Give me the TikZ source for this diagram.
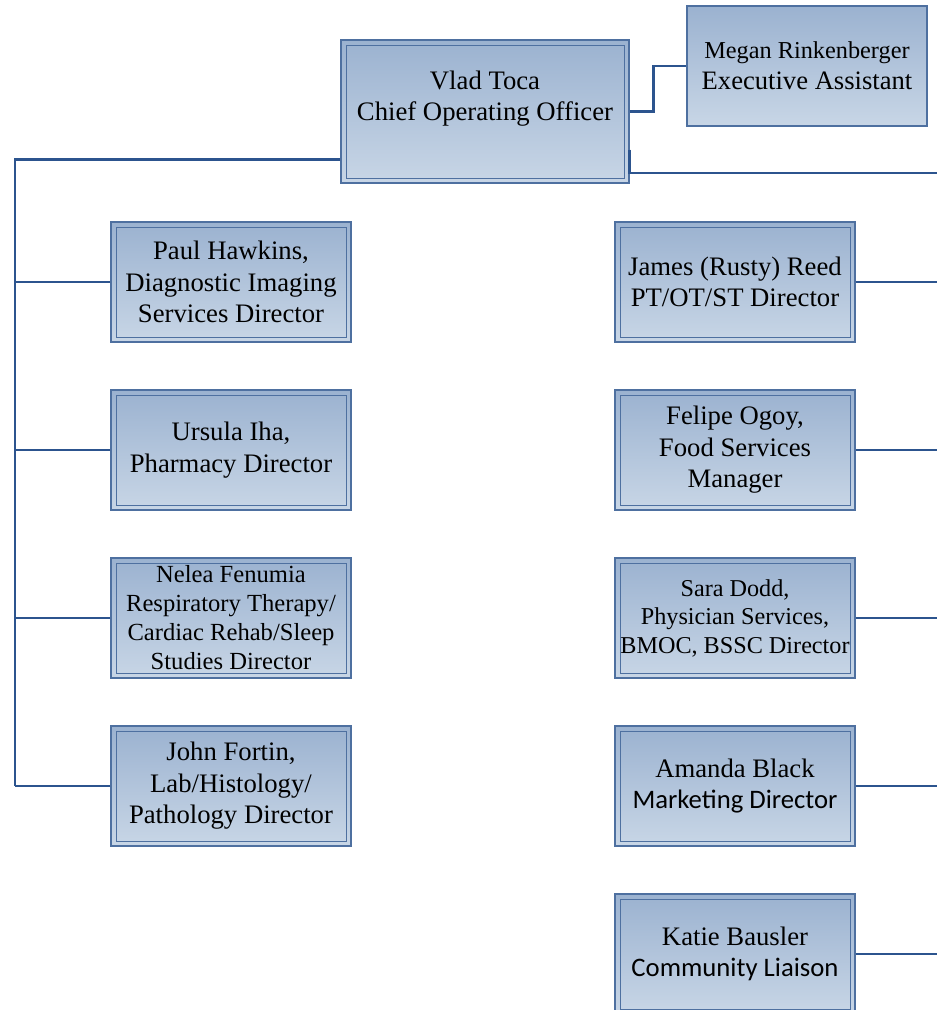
\documentclass[tikz,border=0pt]{standalone}
\usepackage{fontspec}
\setmainfont{Liberation Serif}
\newfontfamily\calibrifont{Carlito}
\usetikzlibrary{positioning}

\definecolor{boxtop}{RGB}{155,178,208}
\definecolor{boxbot}{RGB}{200,214,230}
\definecolor{boxline}{RGB}{78,112,160}
\definecolor{linkblue}{RGB}{44,84,142}

\tikzset{
  plainbox/.style={draw=boxline, line width=1.2pt, top color=boxtop, bottom color=boxbot,
    minimum width=240pt, minimum height=120pt, inner sep=0pt, align=center,
    font=\fontsize{26.7}{31.5}\selectfont},
  staffbox/.style={plainbox,
    path picture={\draw[boxline, line width=1pt]
      ([shift={(5pt,-5pt)}]path picture bounding box.north west) rectangle
      ([shift={(-5pt,5pt)}]path picture bounding box.south east);}},
  link/.style={draw=linkblue, line width=2.4pt}
}

\begin{document}
\begin{tikzpicture}[x=1pt, y=1pt]
  \useasboundingbox (0,0) rectangle (937,-1010);

  % top
  \node (coo) [staffbox, minimum width=288pt, minimum height=143pt] at (485,-111.5)
    {Vlad Toca\\Chief Operating Officer\\\mbox{}};
  \node (megan) [plainbox, font=\fontsize{26.6}{31}\selectfont] at (807,-66)
    {{\fontsize{24.3}{31}\selectfont Megan Rinkenberger}\\Executive Assistant};

  % left column
  \node (paul) [staffbox] at (231,-282) {Paul Hawkins,\\Diagnostic Imaging\\Services Director};
  \node (ursula) [staffbox, below=46.8pt of paul] {Ursula Iha,\\Pharmacy Director};
  \node (nelea) [staffbox, below=46.8pt of ursula, font=\fontsize{24.6}{29}\selectfont]
    {Nelea Fenumia\\Respiratory Therapy/\\Cardiac Rehab/Sleep\\Studies Director};
  \node (john) [staffbox, below=46.8pt of nelea] {John Fortin,\\Lab/Histology/\\Pathology Director};

  % right column
  \node (james) [staffbox] at (735,-282) {James (Rusty) Reed\\PT/OT/ST Director};
  \node (felipe) [staffbox, below=46.8pt of james] {Felipe Ogoy,\\Food Services\\Manager};
  \node (sara) [staffbox, below=46.8pt of felipe, font=\fontsize{24.2}{28.5}\selectfont]
    {Sara Dodd,\\Physician Services,\\BMOC, BSSC Director};
  \node (amanda) [staffbox, below=46.8pt of sara] {Amanda Black\\{\calibrifont Marketing Director}};
  \node (katie) [staffbox, below=46.8pt of amanda] {Katie Bausler\\{\calibrifont Community Liaison}};

  \coordinate (ltrunk) at (15,0);
  \coordinate (rtop) at (937,-173);

  \draw[link] (coo.east) -- ++(24,0) |- (megan.west);
  \draw[link] ([yshift=-48pt]coo.west) -| (john.west -| ltrunk);
  \draw[link] ([yshift=34pt]coo.south east) |- (rtop);

  \foreach \n in {paul,ursula,nelea,john}
    \draw[link] (\n.west) -- (\n.west -| ltrunk);
  \foreach \n in {james,felipe,sara,amanda,katie}
    \draw[link] (\n.east) -- (\n.east -| rtop);
\end{tikzpicture}
\end{document}
